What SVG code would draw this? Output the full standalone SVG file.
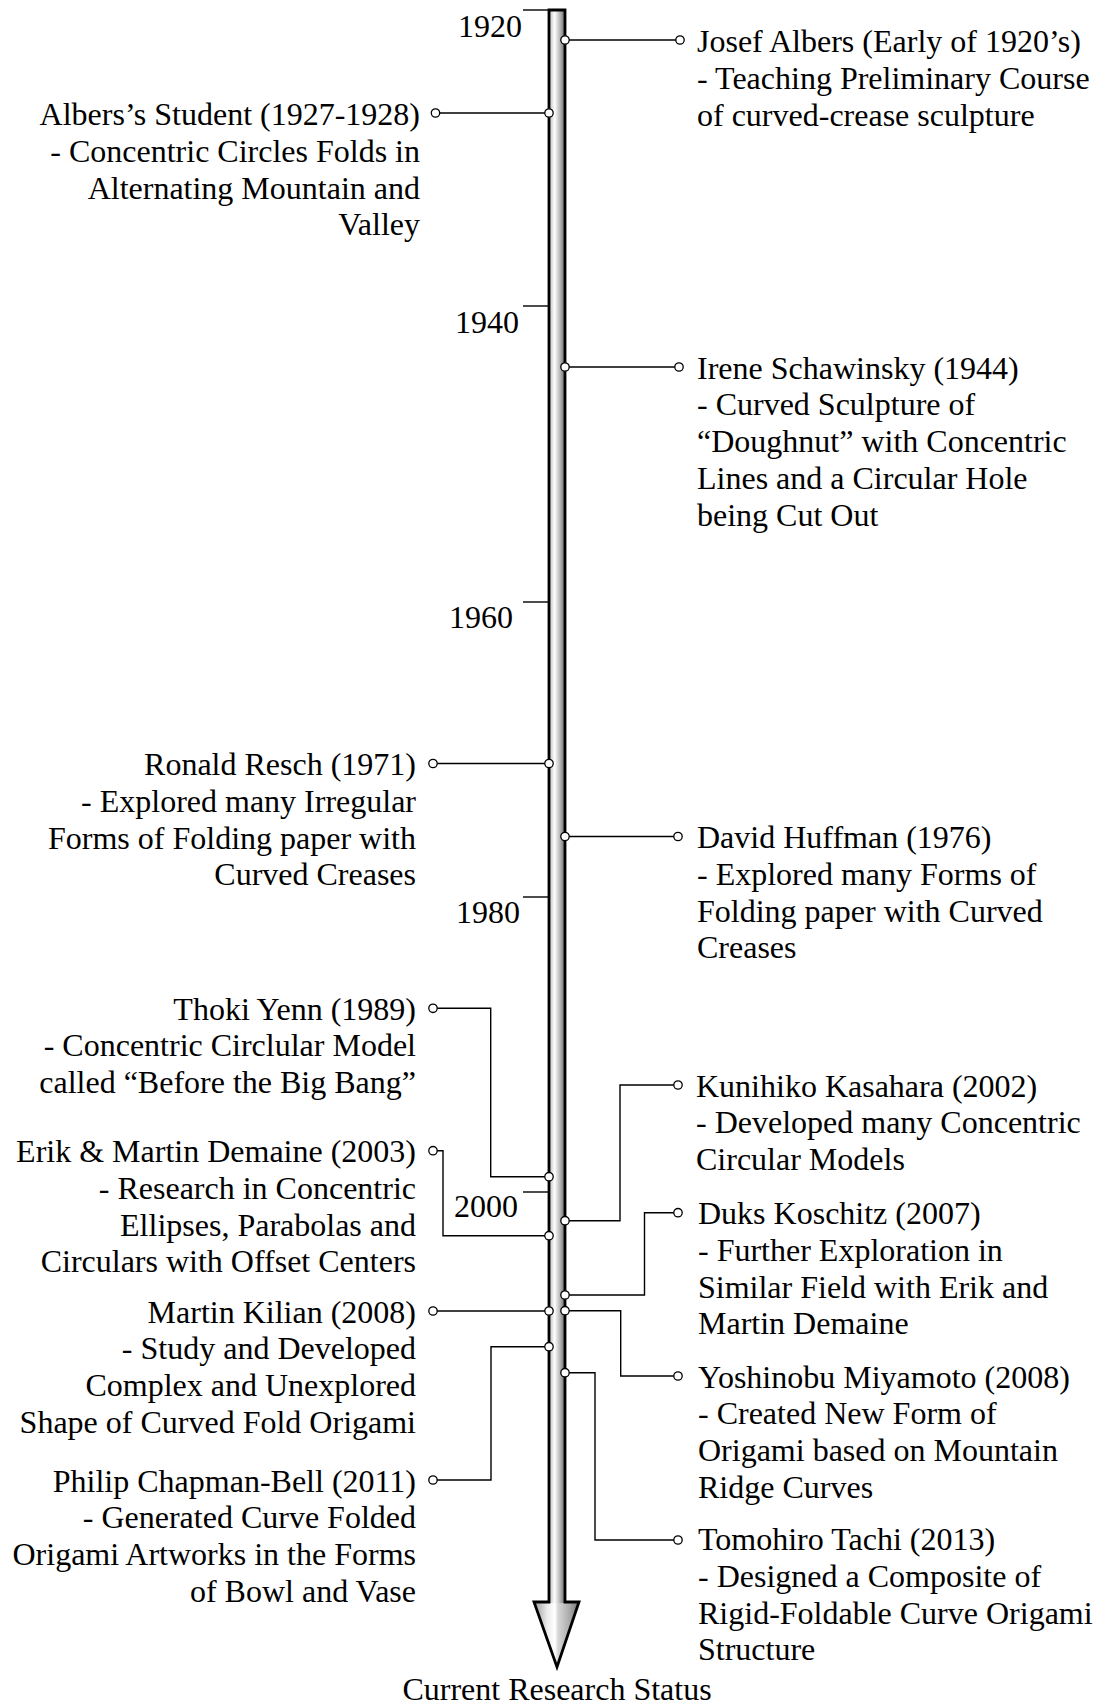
<svg xmlns="http://www.w3.org/2000/svg" width="1103" height="1706" viewBox="0 0 1103 1706">
<style>
text{font-family:"Liberation Serif","Times New Roman",serif;font-size:32px;fill:#000}
.l{text-anchor:end}
.c{fill:none;stroke:#000;stroke-width:1.4;marker-start:url(#dot);marker-end:url(#dot)}
.tick{stroke:#000;stroke-width:1.4}
</style>
<defs>
<marker id="dot" viewBox="-6 -6 12 12" markerWidth="12" markerHeight="12" refX="0" refY="0" markerUnits="userSpaceOnUse" orient="auto"><circle r="4.2" fill="#fff" stroke="#000" stroke-width="1.3"/></marker>
<linearGradient id="gs" gradientUnits="userSpaceOnUse" x1="549" y1="0" x2="565" y2="0">
<stop offset="0" stop-color="#b8b8b8"/><stop offset="0.35" stop-color="#ffffff"/><stop offset="0.7" stop-color="#b4b4b4"/><stop offset="1" stop-color="#6a6a6a"/>
</linearGradient>
<linearGradient id="gh" gradientUnits="userSpaceOnUse" x1="534" y1="0" x2="579" y2="0">
<stop offset="0" stop-color="#9a9a9a"/><stop offset="0.3" stop-color="#eeeeee"/><stop offset="0.47" stop-color="#ffffff"/><stop offset="0.53" stop-color="#d8d8d8"/><stop offset="0.8" stop-color="#a8a8a8"/><stop offset="1" stop-color="#707070"/>
</linearGradient>
</defs>

<g id="axis">
<polygon points="534,1602 579,1602 557,1667" fill="url(#gh)"/>
<rect x="549" y="10" width="16" height="1593" fill="url(#gs)"/>
<path d="M549,10 H565 V1602 H579 L557,1667 L534,1602 H549 Z" fill="none" stroke="#000" stroke-width="2.8" stroke-linejoin="miter"/>
<line class="tick" x1="523" y1="10" x2="549" y2="10"/>
<line class="tick" x1="523" y1="306" x2="549" y2="306"/>
<line class="tick" x1="523" y1="602" x2="549" y2="602"/>
<line class="tick" x1="523" y1="897" x2="549" y2="897"/>
<line class="tick" x1="523" y1="1192" x2="549" y2="1192"/>
<text class="l" x="522" y="37">1920</text>
<text class="l" x="519" y="333">1940</text>
<text class="l" x="513" y="628">1960</text>
<text class="l" x="520" y="923">1980</text>
<text class="l" x="518" y="1217">2000</text>
<text x="557" y="1700" text-anchor="middle">Current Research Status</text>
</g>

<g id="connectors">
<path class="c" d="M565,40 H680"/>
<path class="c" d="M549,113 H435.5"/>
<path class="c" d="M565,367 H679"/>
<path class="c" d="M549,763.5 H433"/>
<path class="c" d="M565,836.5 H678"/>
<path class="c" d="M549,1176.7 H490.7 V1008.3 H433"/>
<path class="c" d="M565,1220.7 H620 V1085 H678"/>
<path class="c" d="M549,1235.7 H443 V1150.7 H433"/>
<path class="c" d="M565,1295 H644.5 V1212.7 H678"/>
<path class="c" d="M549,1311 H433"/>
<path class="c" d="M565,1310.7 H620.7 V1376 H678"/>
<path class="c" d="M549,1346.7 H491 V1480 H433"/>
<path class="c" d="M565,1372.7 H595 V1540 H678"/>
</g>

<g id="josef-albers">
<text x="697" y="52">Josef Albers (Early of 1920’s)</text>
<text x="697" y="88.8">- Teaching Preliminary Course</text>
<text x="697" y="125.6">of curved-crease sculpture</text>
</g>
<g id="albers-student">
<text class="l" x="420" y="125">Albers’s Student (1927-1928)</text>
<text class="l" x="420" y="161.8">- Concentric Circles Folds in</text>
<text class="l" x="420" y="198.6">Alternating Mountain and</text>
<text class="l" x="420" y="235.4">Valley</text>
</g>
<g id="irene-schawinsky">
<text x="697" y="378.5">Irene Schawinsky (1944)</text>
<text x="697" y="415.3">- Curved Sculpture of</text>
<text x="697" y="452.1">“Doughnut” with Concentric</text>
<text x="697" y="488.9">Lines and a Circular Hole</text>
<text x="697" y="525.7">being Cut Out</text>
</g>
<g id="ronald-resch">
<text class="l" x="416" y="775">Ronald Resch (1971)</text>
<text class="l" x="416" y="811.8">- Explored many Irregular</text>
<text class="l" x="416" y="848.6">Forms of Folding paper with</text>
<text class="l" x="416" y="885.4">Curved Creases</text>
</g>
<g id="david-huffman">
<text x="697" y="848">David Huffman (1976)</text>
<text x="697" y="884.8">- Explored many Forms of</text>
<text x="697" y="921.6">Folding paper with Curved</text>
<text x="697" y="958.4">Creases</text>
</g>
<g id="thoki-yenn">
<text class="l" x="416" y="1019.5">Thoki Yenn (1989)</text>
<text class="l" x="416" y="1056.3">- Concentric Circlular Model</text>
<text class="l" x="416" y="1093.1">called “Before the Big Bang”</text>
</g>
<g id="kunihiko-kasahara">
<text x="696" y="1096.5">Kunihiko Kasahara (2002)</text>
<text x="696" y="1133.3">- Developed many Concentric</text>
<text x="696" y="1170.1">Circular Models</text>
</g>
<g id="erik-martin-demaine">
<text class="l" x="416" y="1162">Erik &amp; Martin Demaine (2003)</text>
<text class="l" x="416" y="1198.8">- Research in Concentric</text>
<text class="l" x="416" y="1235.6">Ellipses, Parabolas and</text>
<text class="l" x="416" y="1272.4">Circulars with Offset Centers</text>
</g>
<g id="duks-koschitz">
<text x="698" y="1224">Duks Koschitz (2007)</text>
<text x="698" y="1260.8">- Further Exploration in</text>
<text x="698" y="1297.6">Similar Field with Erik and</text>
<text x="698" y="1334.4">Martin Demaine</text>
</g>
<g id="martin-kilian">
<text class="l" x="416" y="1322.5">Martin Kilian (2008)</text>
<text class="l" x="416" y="1359.3">- Study and Developed</text>
<text class="l" x="416" y="1396.1">Complex and Unexplored</text>
<text class="l" x="416" y="1432.9">Shape of Curved Fold Origami</text>
</g>
<g id="yoshinobu-miyamoto">
<text x="698" y="1387.5">Yoshinobu Miyamoto (2008)</text>
<text x="698" y="1424.3">- Created New Form of</text>
<text x="698" y="1461.1">Origami based on Mountain</text>
<text x="698" y="1497.9">Ridge Curves</text>
</g>
<g id="philip-chapman-bell">
<text class="l" x="416" y="1491.5">Philip Chapman-Bell (2011)</text>
<text class="l" x="416" y="1528.3">- Generated Curve Folded</text>
<text class="l" x="416" y="1565.1">Origami Artworks in the Forms</text>
<text class="l" x="416" y="1601.9">of Bowl and Vase</text>
</g>
<g id="tomohiro-tachi">
<text x="698" y="1550">Tomohiro Tachi (2013)</text>
<text x="698" y="1586.8">- Designed a Composite of</text>
<text x="698" y="1623.6">Rigid-Foldable Curve Origami</text>
<text x="698" y="1660.4">Structure</text>
</g>
</svg>
